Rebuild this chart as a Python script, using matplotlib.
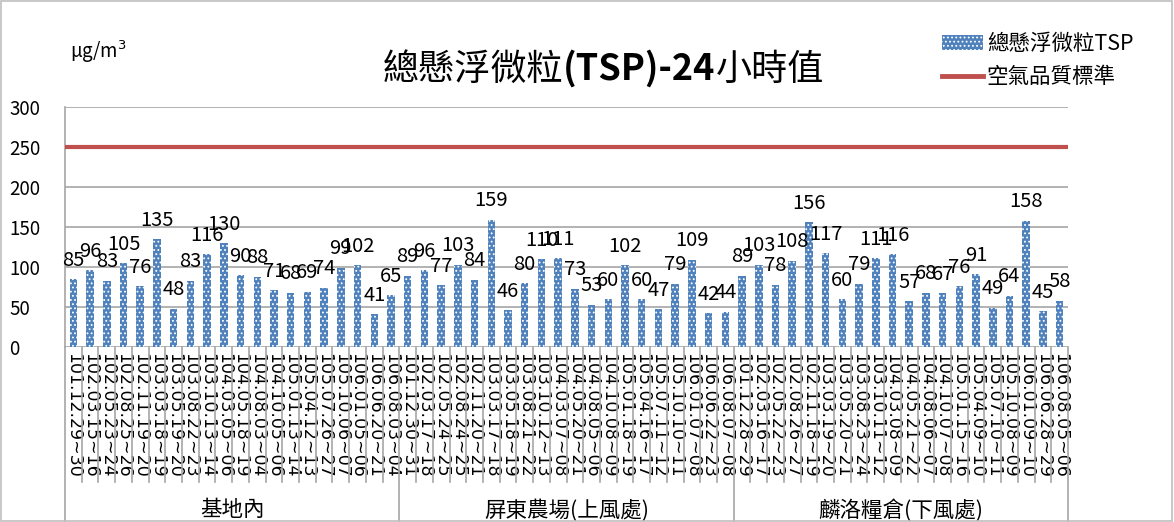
import matplotlib
matplotlib.use('Agg')
import matplotlib.pyplot as plt
from matplotlib.patches import Rectangle, Patch
from matplotlib.lines import Line2D
import matplotlib.transforms as mtransforms

plt.rcParams['font.family'] = ['Noto Sans CJK TC', 'DejaVu Sans']
plt.rcParams['hatch.color'] = 'white'
plt.rcParams['hatch.linewidth'] = 0.8

GROUPS = ['基地內', '屏東農場(上風處)', '麟洛糧倉(下風處)']

DATES_BASE = ['101.12.29~30', '102.03.15~16', '102.05.23~24', '102.08.25~26', '102.11.19~20',
              '103.03.18~19', '103.05.19~20', '103.08.22~23', '103.10.13~14', '104.03.05~06',
              '104.05.18~19', '104.08.03~04', '104.10.05~06', '105.01.13~14', '105.04.12~13',
              '105.07.26~27', '105.10.06~07', '106.01.05~06', '106.06.20~21', '106.08.03~04']
DATES_FARM = ['101.12.30~31', '102.03.17~18', '102.05.24~25', '102.08.24~25', '102.11.20~21',
              '103.03.17~18', '103.05.18~19', '103.08.21~22', '103.10.12~13', '104.03.07~08',
              '104.05.20~21', '104.08.05~06', '104.10.08~09', '105.01.18~19', '105.04.16~17',
              '105.07.11~12', '105.10.10~11', '106.01.07~08', '106.06.22~23', '106.08.07~08']
DATES_GRAIN = ['101.12.28~29', '102.03.16~17', '102.05.22~23', '102.08.26~27', '102.11.18~19',
               '103.03.19~20', '103.05.20~21', '103.08.23~24', '103.10.11~12', '104.03.08~09',
               '104.05.21~22', '104.08.06~07', '104.10.07~08', '105.01.15~16', '105.04.09~10',
               '105.07.10~11', '105.10.08~09', '106.01.09~10', '106.06.28~29', '106.08.05~06']

TSP_BASE = [85, 96, 83, 105, 76, 135, 48, 83, 116, 130, 90, 88, 71, 68, 69, 74, 99, 102, 41, 65]
TSP_FARM = [89, 96, 77, 103, 84, 159, 46, 80, 110, 111, 73, 53, 60, 102, 60, 47, 79, 109, 42, 44]
TSP_GRAIN = [89, 103, 78, 108, 156, 117, 60, 79, 111, 116, 57, 68, 67, 76, 91, 49, 64, 158, 45, 58]

STANDARD = 250

dates = DATES_BASE + DATES_FARM + DATES_GRAIN
values = TSP_BASE + TSP_FARM + TSP_GRAIN
group_sizes = [len(DATES_BASE), len(DATES_FARM), len(DATES_GRAIN)]
n = len(values)
xs = list(range(n))

BAR_BLUE = '#4F81BD'
LINE_RED = '#C0504D'
GRID = '#A6A6A6'

fig = plt.figure(figsize=(11.74, 5.22), dpi=100)
ax = fig.add_axes([0.0554, 0.3352, 0.8543, 0.4598])

ax.bar(xs, values, width=0.45, color=BAR_BLUE, edgecolor='white', linewidth=0,
       hatch='....', zorder=3)
ax.plot([-0.5, n - 0.5], [STANDARD, STANDARD], color=LINE_RED, lw=3, zorder=4,
        solid_capstyle='butt')

for x, v in zip(xs, values):
    ax.annotate(str(v), (x, v), xytext=(0, 6), textcoords='offset points',
                ha='center', va='bottom', fontsize=14.5, color='black', zorder=5)

ax.set_xlim(-0.5, n - 0.5)
ax.set_ylim(0, 300)
ax.set_yticks(range(0, 301, 50))
ax.tick_params(axis='y', labelsize=13.5, length=0, pad=40)
ax.set_xticks(xs)
ax.set_xticklabels(dates, rotation=-90, fontsize=12.5, va='top', ha='center',
                   family='DejaVu Sans')
ax.tick_params(axis='x', length=0, pad=4)
for lab in ax.get_yticklabels():
    lab.set_horizontalalignment('left')
ax.yaxis.grid(True, color=GRID, lw=1.2)
ax.set_axisbelow(True)
for s in ['top', 'right', 'bottom']:
    ax.spines[s].set_visible(False)
ax.spines['left'].set_color(GRID)
ax.spines['left'].set_linewidth(1.2)

# category separators below the axis
trans = mtransforms.blended_transform_factory(ax.transData, fig.transFigure)
bounds = [0]
for g in group_sizes:
    bounds.append(bounds[-1] + g)
for i in range(n + 1):
    x = i - 0.5
    y_end = 0.0 if i in bounds else 1 - 482 / 522
    ax.add_line(Line2D([x, x], [0.3352, y_end], transform=trans, color=GRID,
                       lw=1.2, clip_on=False))

for gi, g in enumerate(GROUPS):
    center = (bounds[gi] + bounds[gi + 1] - 1) / 2
    ax.text(center, 1 - 510 / 522, g, transform=trans, ha='center', va='center',
            fontsize=15.5)

# title with bold middle part
t1 = fig.text(0.326, 1 - 80 / 522, '總懸浮微粒', fontsize=26, ha='left', va='baseline')
t2 = ax.annotate('(TSP)-24', xy=(1, 0), xycoords=t1, fontsize=26, fontweight='bold',
                 ha='left', va='bottom', annotation_clip=False)
t3 = ax.annotate('小時值', xy=(1, 0), xycoords=t2, fontsize=26,
                 ha='left', va='bottom', annotation_clip=False)

fig.text(70 / 1174, 1 - 52 / 522, 'μg/m$^3$', fontsize=13.5, ha='left', va='center')

handles = [Patch(facecolor=BAR_BLUE, edgecolor='white', linewidth=0, hatch='....'),
           Line2D([0], [0], color=LINE_RED, lw=3.5)]
fig.legend(handles, ['總懸浮微粒TSP', '空氣品質標準'], loc='upper left',
           bbox_to_anchor=(933 / 1174, 1 - 24 / 522), frameon=False, fontsize=15.5,
           handlelength=1.9, handletextpad=0.2, labelspacing=0.55, borderaxespad=0)

fig.patches.append(Rectangle((0.001, 0.002), 0.997, 0.996, transform=fig.transFigure,
                             fill=False, edgecolor='#BFBFBF', lw=1.2))

fig.savefig('out.png', dpi=100)
